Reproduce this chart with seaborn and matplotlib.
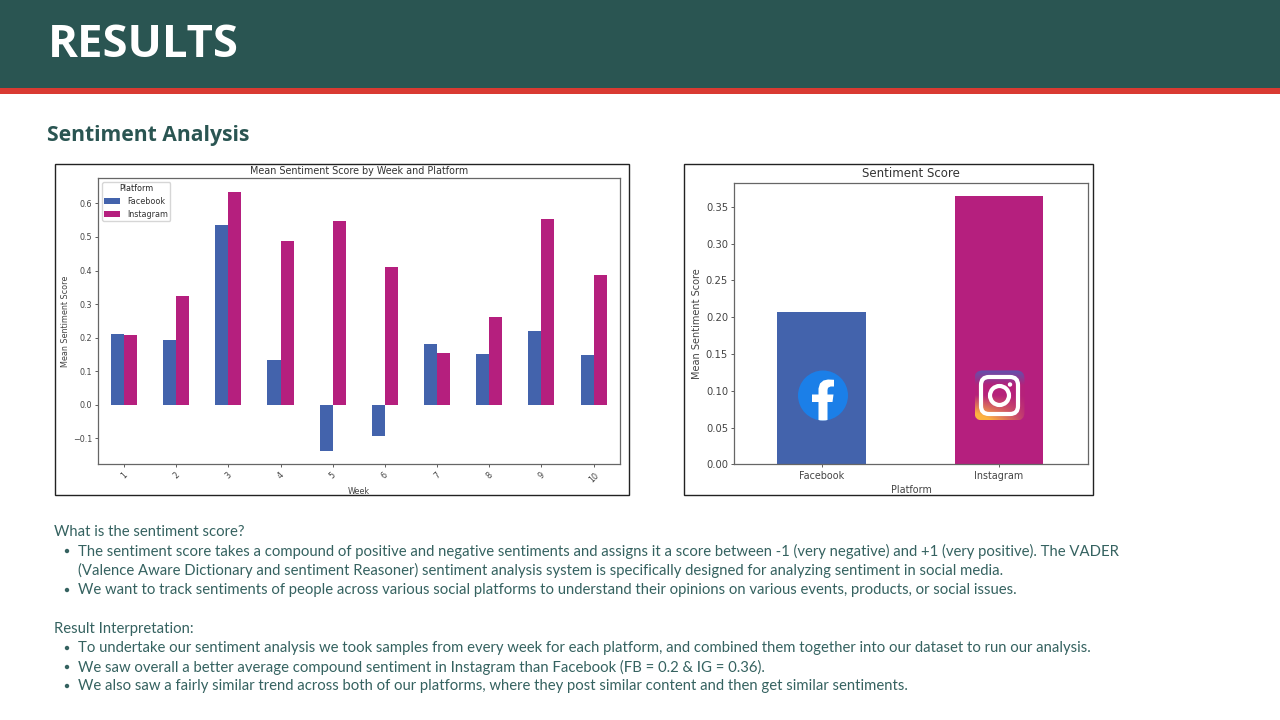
import matplotlib
matplotlib.use('Agg')
import matplotlib.pyplot as plt
import numpy as np
import pandas as pd
import seaborn as sns
from matplotlib.patches import Circle, FancyBboxPatch, Polygon, Rectangle

# Values
weeks = ['1', '2', '3', '4', '5', '6', '7', '8', '9', '10']
facebook_week = [0.212, 0.193, 0.536, 0.133, -0.137, -0.094, 0.182, 0.152, 0.221, 0.147]
instagram_week = [0.207, 0.324, 0.634, 0.489, 0.548, 0.409, 0.155, 0.260, 0.555, 0.388]
platforms = ['Facebook', 'Instagram']
platform_means = [0.2077, 0.3655]

FB_BLUE = '#4363ac'
IG_PINK = '#b51f7e'
DARK_GREEN = '#2a5552'
BODY_GREEN = '#356260'
RED = '#d93a32'
TICK_GREY = '#444444'

sns.set_theme(style='white')
plt.rcParams['font.family'] = ['DejaVu Sans']
plt.rcParams['patch.edgecolor'] = 'none'

fig = plt.figure(figsize=(12.8, 7.2), dpi=100)
fig.patch.set_facecolor('white')


def px_axes(x0, y0, x1, y1, **kw):
    return fig.add_axes([x0 / 1280, 1 - y1 / 720, (x1 - x0) / 1280, (y1 - y0) / 720], **kw)


# slide layer in pixel coordinates
bg = px_axes(0, 0, 1280, 720)
bg.set_xlim(0, 1280)
bg.set_ylim(720, 0)
bg.axis('off')
bg.add_patch(Rectangle((0, 0), 1280, 88, color=DARK_GREEN, lw=0))
bg.add_patch(Rectangle((0, 88), 1280, 6, color=RED, lw=0))
bg.add_patch(Rectangle((54.5, 163.7), 574.5, 331.3, fc='white', ec='#222222', lw=1.0))
bg.add_patch(Rectangle((684.2, 163.7), 409, 331.3, fc='white', ec='#222222', lw=1.0))

bg.text(48, 45.5, 'RESULTS', color='white', fontsize=32.7, fontweight='bold',
        family='Open Sans', va='center', ha='left')
bg.text(47, 135, 'Sentiment Analysis', color=DARK_GREEN, fontsize=15.2, fontweight='bold',
        family='Open Sans', va='center', ha='left')

body = [
    (54, 532, 'What is the sentiment score?', False),
    (78, 551, 'The sentiment score takes a compound of positive and negative sentiments and assigns it a score between -1 (very negative) and +1 (very positive). The VADER', True),
    (78, 570, '(Valence Aware Dictionary and sentiment Reasoner) sentiment analysis system is specifically designed for analyzing sentiment in social media.', False),
    (78, 590, 'We want to track sentiments of people across various social platforms to understand their opinions on various events, products, or social issues.', True),
    (54, 628.5, 'Result Interpretation:', False),
    (78, 648, 'To undertake our sentiment analysis we took samples from every week for each platform, and combined them together into our dataset to run our analysis.', True),
    (78, 667, 'We saw overall a better average compound sentiment in Instagram than Facebook (FB = 0.2 & IG = 0.36).', True),
    (78, 686, 'We also saw a fairly similar trend across both of our platforms, where they post similar content and then get similar sentiments.', True),
]
for x, y, line, bullet in body:
    bg.text(x, y, line, color=BODY_GREEN, fontsize=10.76, family='Lato', va='center', ha='left')
    if bullet:
        bg.add_patch(Circle((67, y), 2.2, color=BODY_GREEN, lw=0))

# weekly grouped bars
week_df = pd.DataFrame({
    'Week': weeks * 2,
    'Platform': ['Facebook'] * len(weeks) + ['Instagram'] * len(weeks),
    'Score': facebook_week + instagram_week,
})
ax1 = px_axes(98.3, 178.3, 620.2, 464.3)
sns.barplot(data=week_df, x='Week', y='Score', hue='Platform', order=weeks,
            palette=[FB_BLUE, IG_PINK], width=0.5, gap=0, saturation=1, errorbar=None,
            linewidth=0, ax=ax1)
ax1.set_xlim(-0.4925, 9.51)
ax1.set_ylim(-0.178, 0.675)
ax1.set_yticks([-0.1, 0.0, 0.1, 0.2, 0.3, 0.4, 0.5, 0.6])
ax1.set_title('Mean Sentiment Score by Week and Platform', fontsize=6.95, color='#333333', pad=3)
ax1.set_xlabel('Week', fontsize=5.8, color=TICK_GREY, labelpad=2.3)
ax1.set_ylabel('Mean Sentiment Score', fontsize=5.8, color=TICK_GREY, labelpad=2)
ax1.tick_params(axis='y', labelsize=5.8, colors=TICK_GREY, length=2.5, width=0.6, left=True, pad=2)
ax1.tick_params(axis='x', labelsize=5.8, colors=TICK_GREY, length=2.5, width=0.6, bottom=True, pad=2,
                labelrotation=45)
for spine in ax1.spines.values():
    spine.set_color('#666666')
    spine.set_linewidth(0.9)
ax1.legend(title='Platform', loc='upper left', fontsize=5.8, title_fontsize=5.8, labelcolor='#333333',
           borderaxespad=0.45, borderpad=0.3, handlelength=2, labelspacing=0.45, framealpha=0.8,
           edgecolor='#cccccc')

# overall bars
mean_df = pd.DataFrame({'Platform': platforms, 'Score': platform_means})
ax2 = px_axes(734.3, 182.7, 1088.3, 464.3)
sns.barplot(data=mean_df, x='Platform', y='Score', hue='Platform', palette=[FB_BLUE, IG_PINK],
            width=0.5, saturation=1, errorbar=None, legend=False, linewidth=0, ax=ax2)
ax2.set_xlim(-0.493, 1.504)
ax2.set_ylim(0, 0.383)
ax2.set_yticks(np.arange(8) * 0.05)
ax2.set_title('Sentiment Score', fontsize=8.45, color='#333333', pad=4)
ax2.set_xlabel('Platform', fontsize=6.9, color=TICK_GREY, labelpad=3.5)
ax2.set_ylabel('Mean Sentiment Score', fontsize=7, color=TICK_GREY, labelpad=3)
ax2.tick_params(axis='y', labelsize=7.2, colors=TICK_GREY, length=2.5, width=0.6, left=True, pad=2)
ax2.tick_params(axis='x', labelsize=6.9, colors=TICK_GREY, length=2.5, width=0.6, bottom=True, pad=2)
for spine in ax2.spines.values():
    spine.set_color('#666666')
    spine.set_linewidth(0.9)

# logos on top, pixel layer
top = px_axes(0, 0, 1280, 720)
top.set_xlim(0, 1280)
top.set_ylim(720, 0)
top.axis('off')
top.patch.set_alpha(0)

disc = Circle((823, 395.5), 25, color='#1b7fe8', lw=0)
top.add_patch(disc)
f_shape = [(818.5, 421), (818.5, 402), (812, 402), (812, 394.5), (818.5, 394.5), (818.5, 388.5),
           (820, 383.5), (823.5, 380.5), (828, 379.5), (834, 379.8), (834, 386.5), (830.5, 386.5),
           (828, 387.8), (827.5, 390), (827.5, 394.5), (833.5, 394.5), (832.5, 402), (827.5, 402), (827.5, 421)]
f_patch = Polygon(f_shape, closed=True, color='white', lw=0, zorder=3)
top.add_patch(f_patch)
f_patch.set_clip_path(disc)

# instagram tile: purple at the top, bar pink in the middle, orange at lower left
yy, xx = np.mgrid[0:1:64j, 0:1:64j]
purple = np.array([0.38, 0.32, 0.68])
pink = np.array([0.71, 0.13, 0.48])
orange = np.array([0.99, 0.70, 0.25])
top_mix = np.clip(1 - yy / 0.3, 0, 1)[..., None]
low_mix = np.clip((yy - 0.5) / 0.5 * (1.35 - xx * 1.2), 0, 1)[..., None]
tile = pink * (1 - top_mix) + purple * top_mix
tile = tile * (1 - low_mix) + orange * low_mix
im = top.imshow(tile, extent=(974.5, 1024.5, 420.5, 370.5), aspect='auto', zorder=3)
clip = FancyBboxPatch((982.5, 378.5), 34, 34, boxstyle='round,pad=8', fc='none', ec='none')
top.add_patch(clip)
im.set_clip_path(clip)
top.set_xlim(0, 1280)
top.set_ylim(720, 0)
top.add_patch(FancyBboxPatch((986, 382), 27, 27, boxstyle='round,pad=5,rounding_size=8', fc='none', ec='white', lw=3, zorder=4))
top.add_patch(Circle((999.5, 395.5), 9.5, fc='none', ec='white', lw=3, zorder=4))
top.add_patch(Circle((1010, 384.5), 2.2, color='white', lw=0, zorder=4))

fig.savefig('out.png', dpi=100)
